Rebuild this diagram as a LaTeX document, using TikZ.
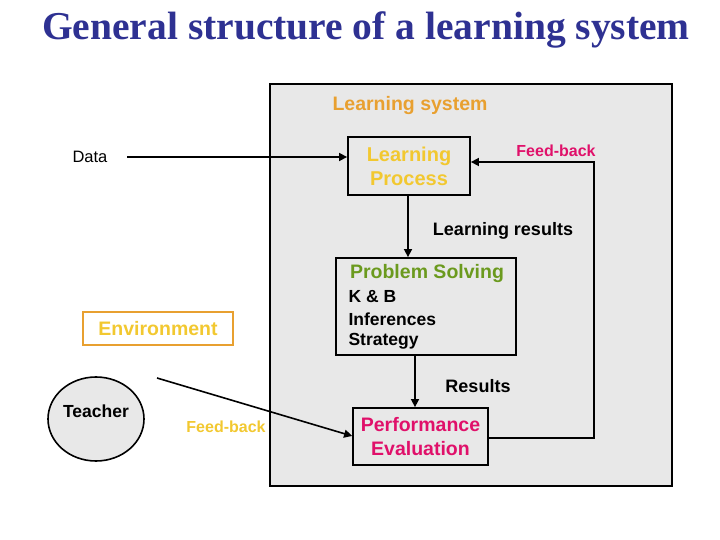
\documentclass[tikz,border=0pt]{standalone}
\usepackage{fontspec}
\setmainfont{Liberation Sans}
\newfontfamily\titlefont{Liberation Serif}
\usetikzlibrary{arrows.meta,shapes.geometric}
\definecolor{navy}{HTML}{2E3192}
\definecolor{orng}{HTML}{E8A030}
\definecolor{yel}{HTML}{F2C830}
\definecolor{grn}{HTML}{6B9A1E}
\definecolor{mag}{HTML}{E0106A}
\definecolor{bg}{HTML}{E8E8E8}
\begin{document}
\begin{tikzpicture}[x=1pt,y=-1pt,
  box/.style={draw=black,line width=1.8pt,fill=bg,inner sep=0pt},
  lbl/.style={font=\fontsize{17.5}{20}\selectfont\bfseries},
  arr/.style={line width=1.6pt,-{Triangle[length=8pt,width=8pt]}}]
\useasboundingbox (0,0) rectangle (720,540);
\node (title) at (366,30) {\titlefont\fontsize{39.5}{44}\selectfont\bfseries\color{navy}General structure of a learning system};
\node[box,minimum width=402pt,minimum height=402pt] (sys) at (471,285) {};
\node[lbl,orng,font=\fontsize{19.5}{22}\selectfont\bfseries] (syslbl) at (410,106) {Learning system};
\node[box,minimum width=122pt,minimum height=58pt,align=center,font=\fontsize{20}{24}\selectfont\bfseries,text=yel] (lp) at (409,166) {Learning\\Process};
\node[font=\fontsize{16.5}{19}\selectfont] (data) at (90,157) {Data};
\node[box,minimum width=180pt,minimum height=97pt] (ps) at (426,306.5) {};
\node[font=\fontsize{19.5}{22}\selectfont\bfseries,text=grn] (pst) at (427,274) {Problem Solving};
\node[lbl,anchor=west] (kb) at (345,297) {K \& B};
\node[lbl,anchor=west] (inf) at (345,319) {Inferences};
\node[lbl,anchor=west] (str) at (345,341) {Strategy};
\node[box,minimum width=135pt,minimum height=57pt,align=center,font=\fontsize{19.5}{24}\selectfont\bfseries,text=mag] (pe) at (420.5,436.5) {Performance\\Evaluation};
\node[draw=orng,line width=1.8pt,minimum width=150pt,minimum height=33pt,font=\fontsize{19.5}{22}\selectfont\bfseries,text=yel] (env) at (158,328.5) {Environment};
\node[draw=black,line width=1.6pt,fill=bg,ellipse,minimum width=96pt,minimum height=84pt,inner sep=0pt] (teacher) at (96,419) {};
\node[lbl] (tlbl) at (96,411) {Teacher};
\node[lbl,font=\fontsize{16}{19}\selectfont\bfseries,text=mag] (fb1) at (556,151) {Feed-back};
\node[lbl,font=\fontsize{16}{19}\selectfont\bfseries,text=yel] (fb2) at (226,427) {Feed-back};
\node[lbl,font=\fontsize{18}{21}\selectfont\bfseries] (lr) at (503,231) {Learning results};
\node[lbl,font=\fontsize{18}{21}\selectfont\bfseries] (res) at (478,386) {Results};
\coordinate (d0) at (127,157);
\coordinate (t0) at (157,378);
\draw[arr] (d0) -- (d0 -| lp.west);
\draw[arr] (lp.south -| 408,0) -- (ps.north -| 408,0);
\draw[arr] (ps.south -| 415,0) -- (pe.north -| 415,0);
\draw[arr] (pe.east |- 0,438) -- (594,438) -- (594,162) -- (lp.east |- 0,162);
\draw[arr] (t0) -- (pe.west |- 0,436);
\end{tikzpicture}
\end{document}
